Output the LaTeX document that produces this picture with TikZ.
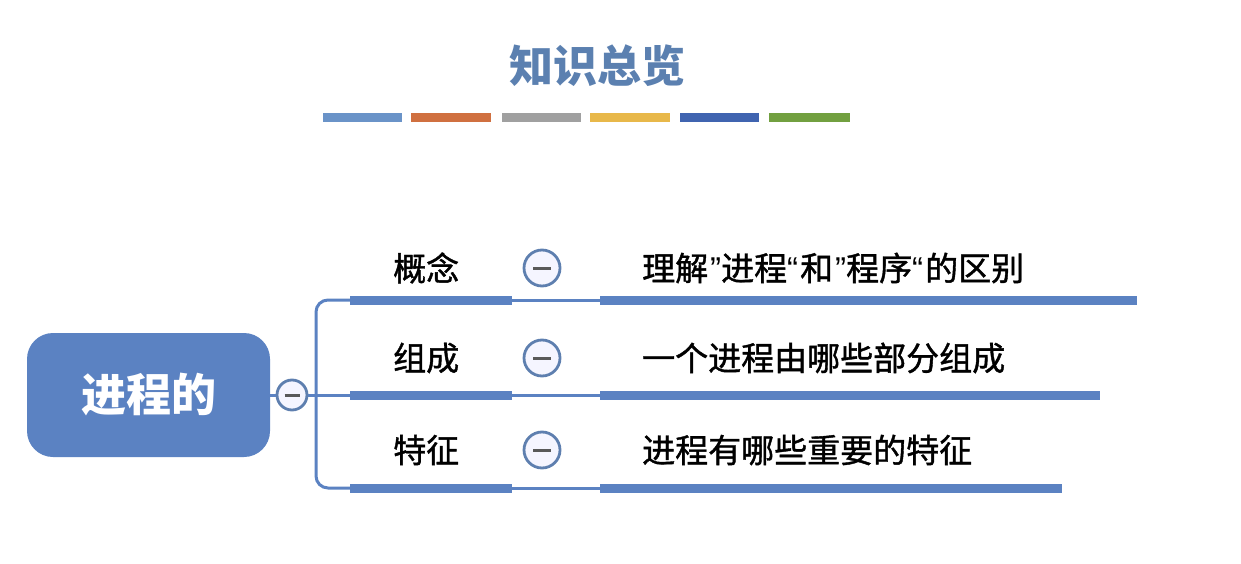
\documentclass[tikz,border=0pt]{standalone}
\usepackage{fontspec}
\newfontfamily\cjk{Noto Sans CJK SC}
\newfontfamily\cjkm[FakeBold=1.2]{Noto Sans CJK SC}
\newfontfamily\qf{Liberation Sans}
\definecolor{lineblue}{HTML}{5B82C2}
\definecolor{circblue}{HTML}{5E7FAF}
\definecolor{titleblue}{HTML}{5B80B0}
\definecolor{c1}{HTML}{6A93C8}\definecolor{c2}{HTML}{D07040}\definecolor{c3}{HTML}{A0A0A0}
\definecolor{c4}{HTML}{E8B84A}\definecolor{c5}{HTML}{4064B0}\definecolor{c6}{HTML}{72A040}
\begin{document}
\begin{tikzpicture}[x=1pt,y=-1pt,
  thick bar/.style={line width=9pt,draw=lineblue},
  thin link/.style={line width=3pt,draw=lineblue},
  minus/.style={circle,draw=circblue,line width=2.8pt,fill=blue!4,minimum size=#1,inner sep=0pt,
    path picture={\draw[gray!70!black,line width=3pt] ([xshift=-0.25*#1]path picture bounding box.center)--([xshift=0.25*#1]path picture bounding box.center);}},
  lbl/.style={font=\cjkm\fontsize{33}{33}\selectfont,anchor=west,inner sep=0pt},
  cbar/.style={line width=9pt}]
\useasboundingbox (0,0) rectangle (1241,564);
\node[font=\cjk\bfseries\fontsize{44}{44}\selectfont,text=titleblue] (title) at (597,66) {知识总览};
\draw[cbar,c1] (323,118)--(402,118);
\draw[cbar,c2] (411,118)--(491,118);
\draw[cbar,c3] (502,118)--(581,118);
\draw[cbar,c4] (590,118)--(670,118);
\draw[cbar,c5] (680,118)--(759,118);
\draw[cbar,c6] (769,118)--(850,118);
\node[fill=lineblue,rounded corners=26pt,minimum width=243pt,minimum height=124pt,
  text=white,font=\cjk\bfseries\fontsize{45}{45}\selectfont] (root) at (148.5,395) {进程的};
\node[minus=30pt] (rc) at (292,395) {};
\draw[thin link] (root.east|-rc)--(rc.west);
\coordinate (b1) at (350,300);
\coordinate (b2) at (350,395);
\coordinate (b3) at (350,488);
\draw[thin link,rounded corners=12pt] (b1)--(316,300)--(316,488)--(b3);
\draw[thin link] (rc.east)--(b2);
\foreach \i/\y/\e in {1/300/1137,2/395/1100,3/488/1062}{
  \coordinate (s\i) at (512,\y);
  \coordinate (t\i) at (600,\y);
  \coordinate (e\i) at (\e,\y);
  \draw[thick bar] (b\i)--(s\i);
  \draw[thin link] (s\i)--(t\i);
  \draw[thick bar] (t\i)--(e\i);
}
\node[lbl] (l1) at (393,268) {概念};
\node[lbl] (l2) at (393,358) {组成};
\node[lbl] (l3) at (393,450) {特征};
\node[minus=36pt] (m1) at (542,268) {};
\node[minus=36pt] (m2) at (542,358) {};
\node[minus=36pt] (m3) at (542,450) {};
\node[lbl] (r1) at (642,268) {理解{\qf\kern2pt”}进程{\qf“\kern2pt}和{\qf\kern2pt”}程序{\qf“\kern2pt}的区别};
\node[lbl] (r2) at (642,358) {一个进程由哪些部分组成};
\node[lbl] (r3) at (642,450) {进程有哪些重要的特征};
\end{tikzpicture}
\end{document}
